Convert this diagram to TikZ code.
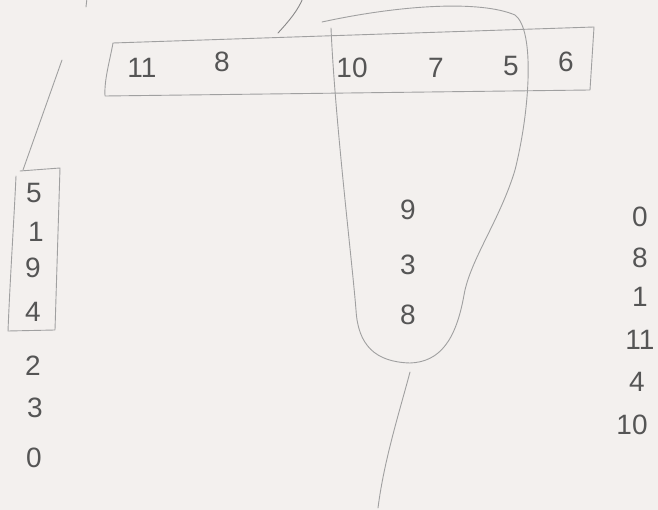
\documentclass[tikz,border=0pt]{standalone}
\usepackage{fontspec}
\setmainfont{Liberation Sans}
\usepackage{xcolor}
\usetikzlibrary{positioning, calc}

\definecolor{paper}{RGB}{243,240,238}
\definecolor{pencil}{RGB}{85,85,85}
\definecolor{lightpencil}{RGB}{160,160,160}

\begin{document}
\begin{tikzpicture}[
    x=1pt, y=-1pt,
    digit/.style={text=pencil, inner sep=1pt, font=\fontsize{28}{28}\selectfont},
    sketch/.style={draw=lightpencil, line width=0.9pt, line cap=round, line join=round},
    stroke/.style={sketch, draw=pencil!70}
]
\fill[paper] (0,0) rectangle (658,510);
\useasboundingbox (0,0) rectangle (658,510);

% top row
\node[digit] (t11) at (142,68) {11};
\node[digit] (t8)  at (222,62) {8};
\node[digit] (t10) at (352,68) {10};
\node[digit] (t7)  at (436,68) {7};
\node[digit] (t5)  at (511,66) {5};
\node[digit] (t6)  at (566,62) {6};
\draw[sketch] (113,43) -- (594,27) -- (590,90) -- (105,96) .. controls (104,80) and (110,60) .. cycle;

% the loop over 10 7 5 and down to 9 3 8
\node[digit] (m9) at (408,210) {9};
\node[digit] (m3) at (408,265) {3};
\node[digit] (m8) at (408,315) {8};
\draw[sketch] (322,22) .. controls (400,5) and (480,0) .. (515,15)
    .. controls (535,30) and (530,110) .. (515,170)
    .. controls (500,220) and (470,260) .. (464,295)
    .. controls (456,340) and (440,362) .. (410,363)
    .. controls (375,362) and (358,345) .. (356,310)
    .. controls (352,260) and (335,120) .. (331,28);
\coordinate (loopend) at (410,372);
\coordinate (loopfree) at (378,508);
\draw[sketch] (loopend) .. controls (400,410) and (384,460) .. (loopfree);

% left column
\node[digit] (l5) at (34,193) {5};
\node[digit] (l1) at (36,232) {1};
\node[digit] (l9) at (33,268) {9};
\node[digit] (l4) at (33,312) {4};
\node[digit] (l2) at (33,366) {2};
\node[digit] (l3) at (35,408) {3};
\node[digit] (l0) at (34,458) {0};
\draw[sketch] (20,171) -- (60,168) -- (55,330) -- (8,331) .. controls (10,280) and (14,220) .. (16,176);
\coordinate (leftfree) at (62,60);
\coordinate (lefttop) at (23,170);
\draw[sketch] (leftfree) -- (lefttop);

% strokes at the top edge
\coordinate (ticka) at (87,-2);
\coordinate (tickb) at (86,7);
\draw[sketch] (ticka) -- (tickb);
\coordinate (hooka) at (278,33);
\coordinate (hookb) at (303,-2);
\draw[stroke] (hooka) .. controls (290,20) and (298,10) .. (hookb);

% right column
\node[digit] (r0)  at (640,217) {0};
\node[digit] (r8)  at (640,258) {8};
\node[digit] (r1)  at (640,297) {1};
\node[digit] (r11) at (640,340) {11};
\node[digit] (r4)  at (637,382) {4};
\node[digit] (r10) at (632,425) {10};
\end{tikzpicture}
\end{document}
